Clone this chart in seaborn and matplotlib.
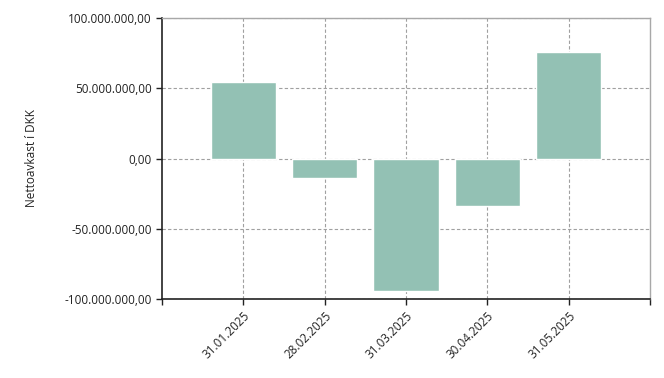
import matplotlib
matplotlib.use("Agg")
import matplotlib.pyplot as plt
import seaborn as sns
import pandas as pd
from matplotlib.ticker import FuncFormatter, FixedLocator

dates = ["31.01.2025", "28.02.2025", "31.03.2025", "30.04.2025", "31.05.2025"]
values = [54_400_000, -13_900_000, -94_300_000, -33_800_000, 75_800_000]
yticks = [-100_000_000, -50_000_000, 0, 50_000_000, 100_000_000]
ylabel = "Nettoavkast í DKK"

sns.set_theme(style="white")
plt.rcParams['font.family'] = ['Open Sans', 'DejaVu Sans']

df = pd.DataFrame({"date": dates, "value": values})

fig = plt.figure(figsize=(6.64, 3.78), dpi=100)
ax = fig.add_axes([162/664, 1-299/378, (650-162)/664, (299-18)/378])
sns.barplot(data=df, x="date", y="value", color="#93c1b4", saturation=1,
            width=0.8, ax=ax, zorder=2)
ax.set_xlim(-1, len(dates))
ax.set_ylim(yticks[0], yticks[-1])
ax.set_yticks(yticks)
ax.xaxis.set_minor_locator(FixedLocator([-1, len(dates)]))

def fmt(v, pos):
    s = f"{abs(v):,.2f}".replace(",", "X").replace(".", ",").replace("X", ".")
    return ("-" if v < 0 else "") + s
ax.yaxis.set_major_formatter(FuncFormatter(fmt))

ax.grid(True, which="major", linestyle=(0, (3, 2)), color="#a0a0a0", linewidth=0.8, zorder=0)
ax.set_axisbelow(True)
for s in ["top", "right"]:
    ax.spines[s].set_color("#a8a8a8")
    ax.spines[s].set_linewidth(1.0)
for s in ["left", "bottom"]:
    ax.spines[s].set_color("#222222")
    ax.spines[s].set_linewidth(1.2)
ax.tick_params(axis="both", which="major", direction="out", length=4, width=1,
               color="#222222", labelsize=8.5, labelcolor="#222222", left=True, bottom=True)
ax.tick_params(axis="x", which="minor", direction="out", length=4, width=1,
               color="#222222", bottom=True)
plt.setp(ax.get_xticklabels(), rotation=45, ha="right", rotation_mode="anchor")
ax.set_xlabel("")
ax.set_ylabel(ylabel, fontsize=8.5, color="#222222")
ax.yaxis.set_label_coords(-0.255, 0.5)

fig.savefig("out.png", dpi=100)
